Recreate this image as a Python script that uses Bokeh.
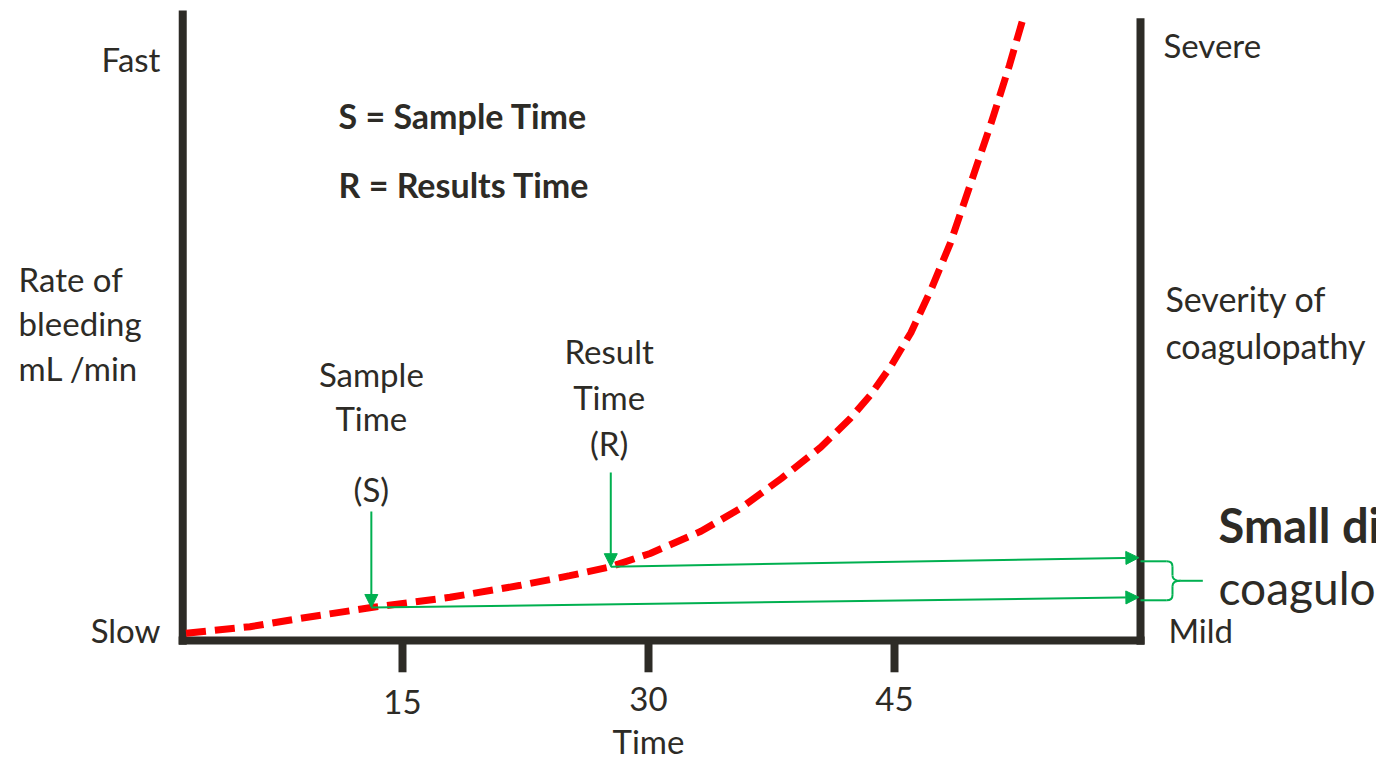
from bokeh.plotting import figure
from bokeh.models import Range1d, Arrow, NormalHead, ColumnDataSource
from bokeh.core.properties import value
from bokeh.embed import file_html
from bokeh.resources import INLINE

# ---- data -------------------------------------------------------------
# bleeding-rate curve (time in minutes, rate in arbitrary units)
curve_time = [1.8, 5.7, 8.8, 13.1, 17.9, 22.2, 25.2, 27.7, 30.1, 33.2, 35.6,
              38.1, 40.5, 42.3, 43.5, 44.8, 46.0, 47.2, 48.4, 49.6, 50.9,
              52.0, 52.8]
curve_rate = [0.12, 0.23, 0.37, 0.55, 0.72, 0.92, 1.08, 1.23, 1.45, 1.82, 2.2,
              2.7, 3.22, 3.7, 4.08, 4.58, 5.13, 5.83, 6.62, 7.58, 8.63,
              9.58, 10.33]

time_ticks = [15, 30, 45]
time_tick_labels = ["15", "30", "45"]

sample_time = 13.1
result_time = 27.7
sample_rate = 0.55          # rate on the curve at S
result_rate = 1.23          # rate on the curve at R
sample_severity = 0.72      # where the S projection meets the severity axis
result_severity = 1.38      # where the R projection meets the severity axis

axis_start = 1.6            # left (rate) axis
axis_end = 60.0             # right (severity) axis
axis_top = 10.5

INK = "#2d2b26"
GREEN = "#00b050"
RED = "#ff0000"
FONT = value("Lato")

p = figure(width=1376, height=758, output_backend="svg", toolbar_location=None,
           x_axis_location=None, y_axis_location=None, min_border=0,
           x_range=Range1d(-9.512, 74.39), y_range=Range1d(-1.967, 10.667))
p.grid.visible = False
p.outline_line_color = None
p.background_fill_color = "white"
p.border_fill_color = "white"

# ---- frame: rate axis, time axis, severity axis ----------------------
p.segment(x0=[axis_start, axis_start - 0.25, axis_end],
          y0=[axis_top, 0, axis_top - 0.13],
          x1=[axis_start, axis_end + 0.25, axis_end],
          y1=[-0.07, 0, -0.07],
          line_color=INK, line_width=8)
p.segment(x0=time_ticks, y0=[0] * 3, x1=time_ticks, y1=[-0.53] * 3,
          line_color=INK, line_width=8)

# ---- bleeding-rate curve --------------------------------------------
p.line(curve_time, curve_rate, line_color=RED, line_width=7,
       line_dash="20 9", line_cap="butt", line_join="round")

# ---- S and R markers and their projections to severity axis ----------
head = dict(size=13, fill_color=GREEN, line_color=GREEN, line_width=1)
arrows = ColumnDataSource(dict(
    x0=[sample_time, result_time, sample_time, result_time],
    y0=[2.15, 2.8, sample_rate, result_rate],
    x1=[sample_time, result_time, axis_end - 0.1, axis_end - 0.1],
    y1=[sample_rate, result_rate, sample_severity, result_severity],
))
p.add_layout(Arrow(end=NormalHead(**head), source=arrows,
                   x_start="x0", y_start="y0", x_end="x1", y_end="y1",
                   line_color=GREEN, line_width=2))

# curly brace grouping the two projections
b_top, b_bot = result_severity - 0.06, sample_severity - 0.05
b_mid = (b_top + b_bot) / 2
b_x1, b_tip, b_stem = axis_end + 1.95, axis_end + 2.45, axis_end + 3.8
rx, ry = 0.35, 0.09
p.quadratic(x0=[b_x1 - rx, b_x1, b_x1 - rx, b_x1],
            y0=[b_top, b_mid + ry, b_bot, b_mid - ry],
            x1=[b_x1, b_tip, b_x1, b_tip],
            y1=[b_top - ry, b_mid, b_bot + ry, b_mid],
            cx=[b_x1, b_x1, b_x1, b_x1],
            cy=[b_top, b_mid, b_bot, b_mid],
            line_color=GREEN, line_width=2)
p.segment(x0=[axis_end, b_x1, axis_end, b_x1, b_tip],
          y0=[b_top, b_top - ry, b_bot, b_bot + ry, b_mid],
          x1=[b_x1 - rx, b_x1, b_x1 - rx, b_x1, b_stem],
          y1=[b_top, b_mid + ry, b_bot, b_mid - ry, b_mid],
          line_color=GREEN, line_width=2)

# ---- texts ------------------------------------------------------------
def label(x, y, lines, size, align="left", style="normal", dy=0.0):
    p.text(x=[x] * len(lines), y=[y - i * dy for i in range(len(lines))],
           text=lines, text_font=FONT, text_font_size=size,
           text_font_style=style, text_color=INK, text_align=align,
           text_baseline="alphabetic")

label(0.24, 9.7, ["Fast"], "33px", align="right")
label(0.24, 0.18, ["Slow"], "33px", align="right")
label(-8.41, 6.02, ["Rate of", "bleeding", "mL /min"], "33px", dy=0.735)

label(61.4, 9.92, ["Severe"], "33px")
label(61.52, 5.7, ["Severity of", "coagulopathy"], "34px", dy=0.78)
label(61.7, 0.18, ["Mild"], "33px")

label(sample_time, 4.45, ["Sample", "Time"], "33px", align="center", dy=0.75)
label(sample_time, 2.53, ["(S)"], "33px", align="center")
label(result_time - 0.1, 4.83, ["Result", "Time", "(R)"], "33px", align="center", dy=0.77)

p.text(x=time_ticks, y=[-1.02, -0.98, -0.98], text=time_tick_labels,
       text_font=FONT, text_font_size="33px", text_color=INK,
       text_align="center", text_baseline="alphabetic")
label(30.0, -1.68, ["Time"], "33px", align="center")

label(11.1, 8.75, ["S = Sample Time"], "34px", style="bold")
label(11.1, 7.6, ["R = Results Time"], "34px", style="bold")

label(64.76, 1.92, ["Small differences in"], "47px", style="bold")
label(64.76, 0.89, ["coagulopathy"], "46px")

open("out.html", "w").write(file_html(p, INLINE))
